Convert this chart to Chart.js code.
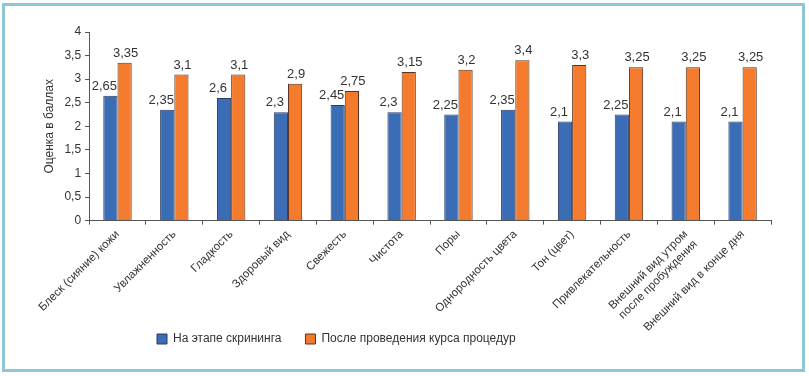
<!DOCTYPE html>
<html>
<head>
<meta charset="utf-8">
<script src="https://cdn.jsdelivr.net/npm/chart.js@4.4.0/dist/chart.umd.min.js"></script>
<style>
    html, body { margin: 0; padding: 0; background: #fff; }
    #wrap { position: relative; width: 809px; height: 376px; }
    #frame {
        position: absolute; left: 2px; top: 3px; width: 797px; height: 363px;
        border: 3px solid #8ec8d8; pointer-events: none;
    }
    canvas { position: absolute; left: 0; top: 0; }
</style>
</head>
<body>
<div id="wrap">
    <canvas id="scoreChart" width="809" height="376"></canvas>
    <div id="frame"></div>
</div>
<script>
// data
const categories = [
    'Блеск (сияние) кожи',
    'Увлажненность',
    'Гладкость',
    'Здоровый вид',
    'Свежесть',
    'Чистота',
    'Поры',
    'Однородность цвета',
    'Тон (цвет)',
    'Привлекательность',
    ['Внешний вид утром', 'после пробуждения'],
    'Внешний вид в конце дня'
];
const screening = [2.65, 2.35, 2.6, 2.3, 2.45, 2.3, 2.25, 2.35, 2.1, 2.25, 2.1, 2.1];
const afterCourse = [3.35, 3.1, 3.1, 2.9, 2.75, 3.15, 3.2, 3.4, 3.3, 3.25, 3.25, 3.25];
const yTicks = [0, 0.5, 1, 1.5, 2, 2.5, 3, 3.5, 4];

const fontFamily = '"Liberation Sans", Arial, sans-serif';
const fmt = v => String(v).replace('.', ',');

// value labels above the bars
const barValues = {
    id: 'barValues',
    afterDatasetsDraw(chart) {
        const { ctx } = chart;
        ctx.save();
        ctx.font = '13px ' + fontFamily;
        ctx.fillStyle = '#333';
        ctx.textAlign = 'center';
        ctx.textBaseline = 'bottom';
        chart.data.datasets.forEach((ds, i) => {
            const shift = i === 0 ? -6 : 1;
            chart.getDatasetMeta(i).data.forEach((bar, j) => {
                ctx.fillText(fmt(ds.data[j]), bar.x + shift, bar.y - 3);
            });
        });
        ctx.restore();
    }
};

// legend sits left of centre and a bit higher in the original
const legendShift = {
    id: 'legendShift',
    afterLayout(chart) {
        chart.legend.left = 157 - 24;
        chart.legend.right = 809;
        chart.legend.top = 309;
    }
};

const config = {
    type: 'bar',
    data: {
        labels: categories,
        datasets: [{
            label: 'На этапе скрининга',
            data: screening,
            backgroundColor: '#3b6db6',
            borderColor: '#2d3d5c',
            borderWidth: 1,
            categoryPercentage: 0.5,
            barPercentage: 1
        }, {
            label: 'После проведения курса процедур',
            data: afterCourse,
            backgroundColor: '#f47b2e',
            borderColor: '#5a3420',
            borderWidth: 1,
            categoryPercentage: 0.5,
            barPercentage: 1
        }]
    },
    options: {
        responsive: false,
        animation: false,
        layout: { padding: { top: 32, right: 38, bottom: -17, left: 38 } },
        plugins: {
            legend: {
                position: 'bottom',
                align: 'start',
                labels: {
                    boxWidth: 10,
                    boxHeight: 10,
                    padding: 24,
                    color: '#333',
                    font: { family: fontFamily, size: 12 }
                }
            },
            tooltip: { enabled: false }
        },
        scales: {
            x: {
                grid: { display: true, drawOnChartArea: false, tickLength: 4, color: '#555' },
                border: { color: '#555' },
                ticks: {
                    minRotation: 45,
                    maxRotation: 45,
                    color: '#333',
                    font: { family: fontFamily, size: 11.5 }
                }
            },
            y: {
                min: 0,
                max: 4,
                afterBuildTicks: axis => { axis.ticks = yTicks.map(v => ({ value: v })); },
                grid: { display: true, drawOnChartArea: false, tickLength: 4, color: '#555' },
                border: { color: '#555' },
                title: {
                    display: true,
                    text: 'Оценка в баллах',
                    color: '#333',
                    font: { family: fontFamily, size: 12 }
                },
                ticks: {
                    color: '#333',
                    padding: 4,
                    font: { family: fontFamily, size: 12 },
                    callback: v => fmt(v)
                }
            }
        }
    },
    plugins: [barValues, legendShift]
};

const myChart = new Chart(document.getElementById('scoreChart'), config);
</script>
</body>
</html>
